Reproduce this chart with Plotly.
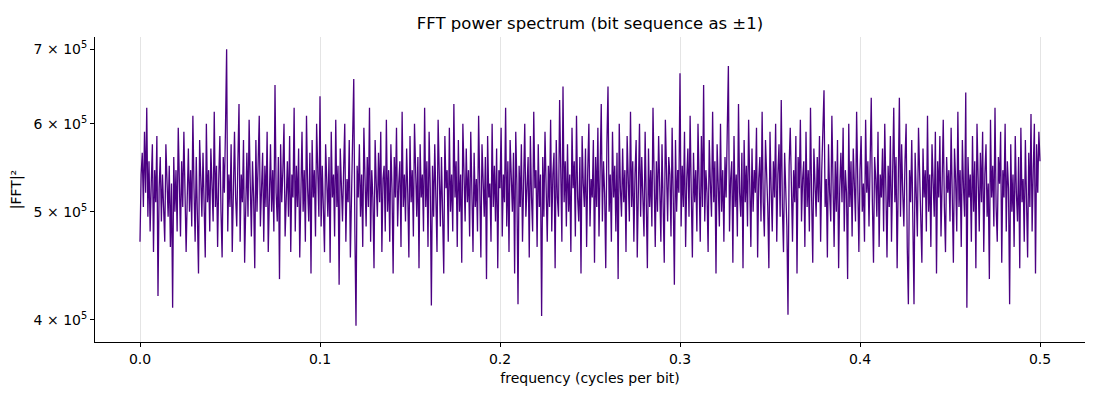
import plotly.graph_objects as go

# |FFT|^2, in units of 1e3, evenly spaced from f=0 to f=0.5
power_k = [
    470, 540, 565, 505, 590, 520, 620, 495, 555, 480, 530, 575, 460, 545, 510, 585, 420, 525, 560, 490,
    540, 505, 470, 575, 515, 495, 550, 465, 530, 410, 560, 500, 545, 480, 595, 520, 475, 555, 505, 590,
    535, 460, 515, 570, 500, 545, 485, 610, 525, 470, 560, 505, 440, 580, 530, 495, 565, 515, 455, 600,
    510, 545, 480, 570, 525, 490, 615, 505, 550, 465, 535, 585, 500, 455, 560, 520, 595, 700, 480, 540,
    505, 575, 460, 530, 590, 515, 485, 555, 625, 470, 540, 510, 580, 450, 525, 565, 495, 605, 530, 475,
    555, 515, 445, 580, 500, 540, 610, 485, 525, 565, 470, 550, 505, 590, 460, 535, 575, 500, 545, 480,
    650, 520, 490, 560, 435, 575, 510, 545, 600, 475, 530, 555, 495, 585, 460, 540, 515, 620, 480, 550,
    505, 570, 455, 530, 590, 500, 545, 470, 610, 525, 490, 565, 440, 580, 515, 545, 475, 600, 520, 495,
    635, 485, 550, 510, 460, 575, 530, 495, 560, 450, 590, 515, 540, 475, 605, 505, 550, 430, 570, 520,
    490, 545, 600, 470, 535, 510, 580, 455, 525, 560, 658, 480, 395, 550, 515, 575, 495, 540, 465, 595,
    520, 485, 560, 505, 620, 470, 545, 515, 445, 580, 530, 495, 565, 510, 590, 460, 535, 550, 480, 605,
    500, 545, 470, 575, 525, 440, 560, 515, 595, 485, 530, 555, 465, 615, 505, 540, 490, 570, 520, 455,
    585, 510, 545, 475, 600, 530, 495, 560, 445, 575, 515, 540, 480, 620, 505, 555, 465, 590, 525, 412,
    550, 495, 575, 515, 460, 605, 535, 485, 560, 510, 440, 585, 525, 545, 470, 595, 500, 540, 480, 625,
    515, 555, 465, 580, 500, 540, 450, 600, 525, 490, 570, 510, 545, 475, 590, 520, 460, 565, 505, 535,
    480, 610, 520, 455, 575, 540, 495, 560, 435, 585, 515, 530, 470, 600, 505, 550, 490, 570, 445, 545,
    525, 595, 475, 540, 510, 620, 485, 555, 460, 580, 520, 500, 565, 440, 590, 530, 413, 550, 505, 575,
    470, 545, 600, 495, 530, 560, 455, 585, 515, 480, 615, 525, 545, 465, 575, 505, 540, 403, 560, 495,
    590, 520, 470, 550, 505, 605, 480, 540, 565, 445, 580, 515, 495, 630, 530, 470, 648, 510, 555, 485,
    575, 500, 540, 460, 595, 525, 555, 475, 610, 515, 490, 560, 440, 585, 530, 505, 570, 465, 545, 600,
    485, 535, 515, 580, 450, 560, 505, 595, 475, 540, 625, 490, 555, 520, 445, 575, 648, 500, 540, 470,
    590, 515, 550, 480, 565, 435, 600, 525, 495, 570, 510, 545, 460, 585, 520, 490, 615, 505, 555, 470,
    540, 580, 455, 525, 600, 495, 560, 515, 475, 590, 530, 445, 570, 505, 545, 485, 620, 520, 465, 555,
    500, 585, 535, 470, 575, 510, 450, 605, 525, 490, 560, 540, 475, 595, 515, 430, 580, 500, 545, 520,
    666, 485, 550, 505, 590, 465, 535, 570, 495, 610, 520, 455, 565, 510, 545, 480, 600, 525, 470, 585,
    505, 650, 490, 545, 520, 460, 580, 530, 495, 615, 510, 555, 440, 575, 525, 485, 600, 500, 545, 470,
    560, 515, 590, 676, 480, 535, 555, 450, 585, 505, 540, 475, 625, 520, 495, 565, 445, 580, 510, 550,
    485, 605, 530, 465, 570, 500, 545, 520, 595, 455, 535, 560, 490, 615, 510, 475, 580, 540, 505, 445,
    590, 525, 480, 555, 515, 600, 470, 540, 575, 495, 630, 505, 460, 565, 530, 485, 404, 550, 595, 515,
    470, 545, 510, 585, 440, 560, 525, 605, 490, 535, 555, 465, 590, 505, 545, 480, 620, 515, 450, 570,
    530, 495, 560, 510, 585, 470, 545, 600, 643, 505, 535, 455, 575, 520, 490, 610, 540, 465, 555, 500,
    580, 445, 525, 565, 510, 595, 480, 545, 520, 435, 600, 505, 555, 475, 570, 530, 490, 615, 515, 460,
    545, 585, 500, 530, 470, 605, 520, 555, 485, 575, 633, 510, 450, 560, 535, 495, 590, 465, 540, 515,
    570, 480, 600, 525, 455, 550, 505, 585, 470, 540, 620, 510, 560, 445, 530, 633, 495, 575, 520, 485,
    555, 600, 465, 413, 545, 510, 580, 490, 413, 565, 525, 475, 595, 535, 505, 450, 570, 515, 545, 480,
    610, 500, 540, 465, 575, 525, 495, 590, 440, 555, 515, 585, 475, 530, 605, 505, 460, 560, 520, 545,
    490, 595, 510, 450, 570, 535, 480, 615, 505, 545, 465, 580, 525, 495, 640, 410, 560, 515, 540, 470,
    585, 500, 555, 445, 600, 525, 480, 565, 510, 590, 460, 540, 575, 495, 530, 435, 605, 515, 550, 485,
    620, 505, 470, 560, 530, 590, 450, 545, 515, 600, 480, 555, 525, 413, 575, 500, 540, 465, 585, 520,
    490, 560, 445, 595, 510, 535, 470, 580, 525, 455, 565, 505, 612, 480, 545, 600, 440, 575, 520, 590,
    555,
]
power = [v * 1000 for v in power_k]
freq = [i * 0.5 / (len(power) - 1) for i in range(len(power))]

y_tickvals = [4e5, 5e5, 6e5, 7e5]
y_ticktext = ["4 × 10<sup>5</sup>", "5 × 10<sup>5</sup>", "6 × 10<sup>5</sup>", "7 × 10<sup>5</sup>"]
x_tickvals = [0.0, 0.1, 0.2, 0.3, 0.4, 0.5]

fig = go.Figure(go.Scatter(
    x=freq,
    y=power,
    mode="lines",
    line=dict(color="#4b0082", width=1.3),
    hoverinfo="x+y",
))

# the page body adds 8px on the left and top, so margins are trimmed by that
fig.update_layout(
    width=1100,
    height=400,
    paper_bgcolor="white",
    plot_bgcolor="white",
    font=dict(family="DejaVu Sans", size=14, color="black"),
    margin=dict(l=87, r=23, t=29, b=66),
    showlegend=False,
    title=dict(
        text="FFT power spectrum (bit sequence as ±1)",
        xref="paper",
        x=0.5,
        xanchor="center",
        y=0.9625,
        yanchor="middle",
        font=dict(size=16.5),
    ),
)

fig.update_xaxes(
    range=[-0.025, 0.525],
    tickvals=x_tickvals,
    tickformat=".1f",
    tickfont=dict(size=14),
    showgrid=True,
    gridcolor="#e4e4e4",
    gridwidth=1,
    zeroline=False,
    showline=True,
    linecolor="black",
    linewidth=1,
    ticks="outside",
    ticklen=4,
    tickcolor="black",
    automargin=False,
    title=dict(text="frequency (cycles per bit)", standoff=7, font=dict(size=14)),
)

fig.update_yaxes(
    type="log",
    range=[5.582, 5.856],
    tickvals=y_tickvals,
    ticktext=y_ticktext,
    tickfont=dict(size=14),
    showgrid=False,
    zeroline=False,
    showline=True,
    linecolor="black",
    linewidth=1,
    ticks="outside",
    ticklen=4,
    tickcolor="black",
    automargin=False,
    title=dict(text="|FFT|²", standoff=12, font=dict(size=14)),
)

fig.write_html("out.html")
